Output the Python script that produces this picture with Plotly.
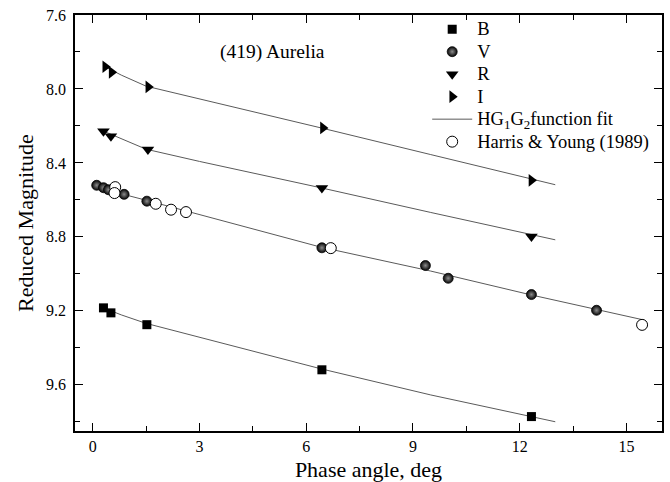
import plotly.graph_objects as go

# Phase-curve photometry of (419) Aurelia: phase angle (deg) vs reduced magnitude
b_phase = [0.30, 0.51, 1.52, 6.44, 12.33]
b_mag = [9.184, 9.211, 9.275, 9.519, 9.772]

v_phase = [0.11, 0.30, 0.44, 0.88, 1.52, 6.44, 9.35, 9.99, 12.33, 14.16]
v_mag = [8.521, 8.534, 8.545, 8.570, 8.607, 8.859, 8.955, 9.024, 9.112, 9.197]

r_phase = [0.30, 0.51, 1.55, 6.44, 12.33]
r_mag = [8.229, 8.256, 8.328, 8.536, 8.798]

i_phase = [0.35, 0.53, 1.56, 6.47, 12.33]
i_mag = [7.880, 7.910, 7.989, 8.211, 8.494]

# Harris & Young (1989) V-band observations
hy_phase = [0.63, 0.61, 1.77, 2.20, 2.62, 6.69, 15.44]
hy_mag = [8.531, 8.563, 8.621, 8.653, 8.666, 8.861, 9.276]

# HG1G2 fit curves, sampled along each band
fit_b_phase = [0.30, 0.80, 1.50, 3.00, 6.40, 9.50, 13.00]
fit_b_mag = [9.184, 9.222, 9.268, 9.343, 9.513, 9.655, 9.800]
fit_v_phase = [0.10, 0.50, 0.90, 1.50, 3.00, 6.40, 9.50, 12.30, 15.50]
fit_v_mag = [8.518, 8.547, 8.572, 8.602, 8.680, 8.855, 8.985, 9.113, 9.250]
fit_r_phase = [0.30, 0.80, 1.50, 3.00, 6.40, 9.50, 13.00]
fit_r_mag = [8.228, 8.268, 8.326, 8.392, 8.534, 8.668, 8.816]
fit_i_phase = [0.30, 0.80, 1.50, 3.00, 6.40, 9.50, 13.00]
fit_i_mag = [7.875, 7.925, 7.985, 8.053, 8.210, 8.355, 8.518]

FONT = "Liberation Serif, Times New Roman, serif"
fit_color = "#5a5a5a"


def legend_label(text):
    # larger glyphs than the legend's base font, which sets the row spacing
    return '<span style="font-size:18.5px">' + text + "</span>"


fig = go.Figure()

fits = [(fit_b_phase, fit_b_mag), (fit_v_phase, fit_v_mag),
        (fit_r_phase, fit_r_mag), (fit_i_phase, fit_i_mag)]
for k, (xs, ys) in enumerate(fits):
    fig.add_trace(go.Scatter(
        x=xs, y=ys, mode="lines",
        line=dict(color=fit_color, width=1),
        name=legend_label("HG<sub>1</sub>G<sub>2</sub>function fit"),
        showlegend=(k == 0), legendrank=5, hoverinfo="skip"))

fig.add_trace(go.Scatter(
    x=b_phase, y=b_mag, mode="markers", name=legend_label("B"), legendrank=1,
    marker=dict(symbol="square", size=9, color="black")))
fig.add_trace(go.Scatter(
    x=v_phase, y=v_mag, mode="markers", name=legend_label("V"), legendrank=2,
    marker=dict(symbol="circle", size=10, color="#050505",
                gradient=dict(type="radial", color="#8c8c8c"),
                line=dict(color="#050505", width=0.8))))
fig.add_trace(go.Scatter(
    x=r_phase, y=r_mag, mode="markers", name=legend_label("R"), legendrank=3,
    marker=dict(symbol="triangle-down", size=11, color="black")))
fig.add_trace(go.Scatter(
    x=i_phase, y=i_mag, mode="markers", name=legend_label("I"), legendrank=4,
    marker=dict(symbol="triangle-right", size=11, color="black")))
fig.add_trace(go.Scatter(
    x=hy_phase, y=hy_mag, mode="markers",
    name=legend_label("Harris &amp; Young (1989)"), legendrank=6,
    marker=dict(symbol="circle", size=11, color="white",
                line=dict(color="black", width=1))))

axis_common = dict(
    showline=True, linecolor="black", linewidth=1.5, mirror="allticks",
    ticks="inside", ticklen=8, tickwidth=1.2, tickcolor="black",
    showgrid=False, zeroline=False, automargin=False,
    tickfont=dict(family=FONT, size=16, color="black"),
)

fig.update_xaxes(
    range=[-0.5, 16], tickvals=[0, 3, 6, 9, 12, 15],
    minor=dict(tickvals=[1.5, 4.5, 7.5, 10.5, 13.5], ticks="inside",
               ticklen=5, tickwidth=1.2, tickcolor="black"),
    title=dict(text="Phase angle, deg", font=dict(family=FONT, size=22, color="black"),
               standoff=10),
    **axis_common)
fig.update_yaxes(
    range=[9.85, 7.6], tickvals=[7.6, 8.0, 8.4, 8.8, 9.2, 9.6], tickformat=".1f",
    minor=dict(tickvals=[7.8, 8.2, 8.6, 9.0, 9.4, 9.8], ticks="inside",
               ticklen=5, tickwidth=1.2, tickcolor="black"),
    ticklabelstandoff=4,
    title=dict(text="Reduced Magnitude", font=dict(family=FONT, size=22, color="black"),
               standoff=6),
    **axis_common)

fig.add_annotation(
    text="(419) Aurelia", x=5.05, y=7.80, xref="x", yref="y", showarrow=False,
    font=dict(family=FONT, size=19.5, color="black"))

fig.update_layout(
    width=670, height=482,
    margin=dict(l=75, r=8, t=15, b=51),
    paper_bgcolor="white", plot_bgcolor="white",
    showlegend=True,
    legend=dict(x=0.6, y=1.005, xanchor="left", yanchor="top",
                bgcolor="rgba(0,0,0,0)", borderwidth=0,
                font=dict(family=FONT, size=15, color="black"),
                itemwidth=40, tracegroupgap=0),
)

fig.write_html("out.html")
